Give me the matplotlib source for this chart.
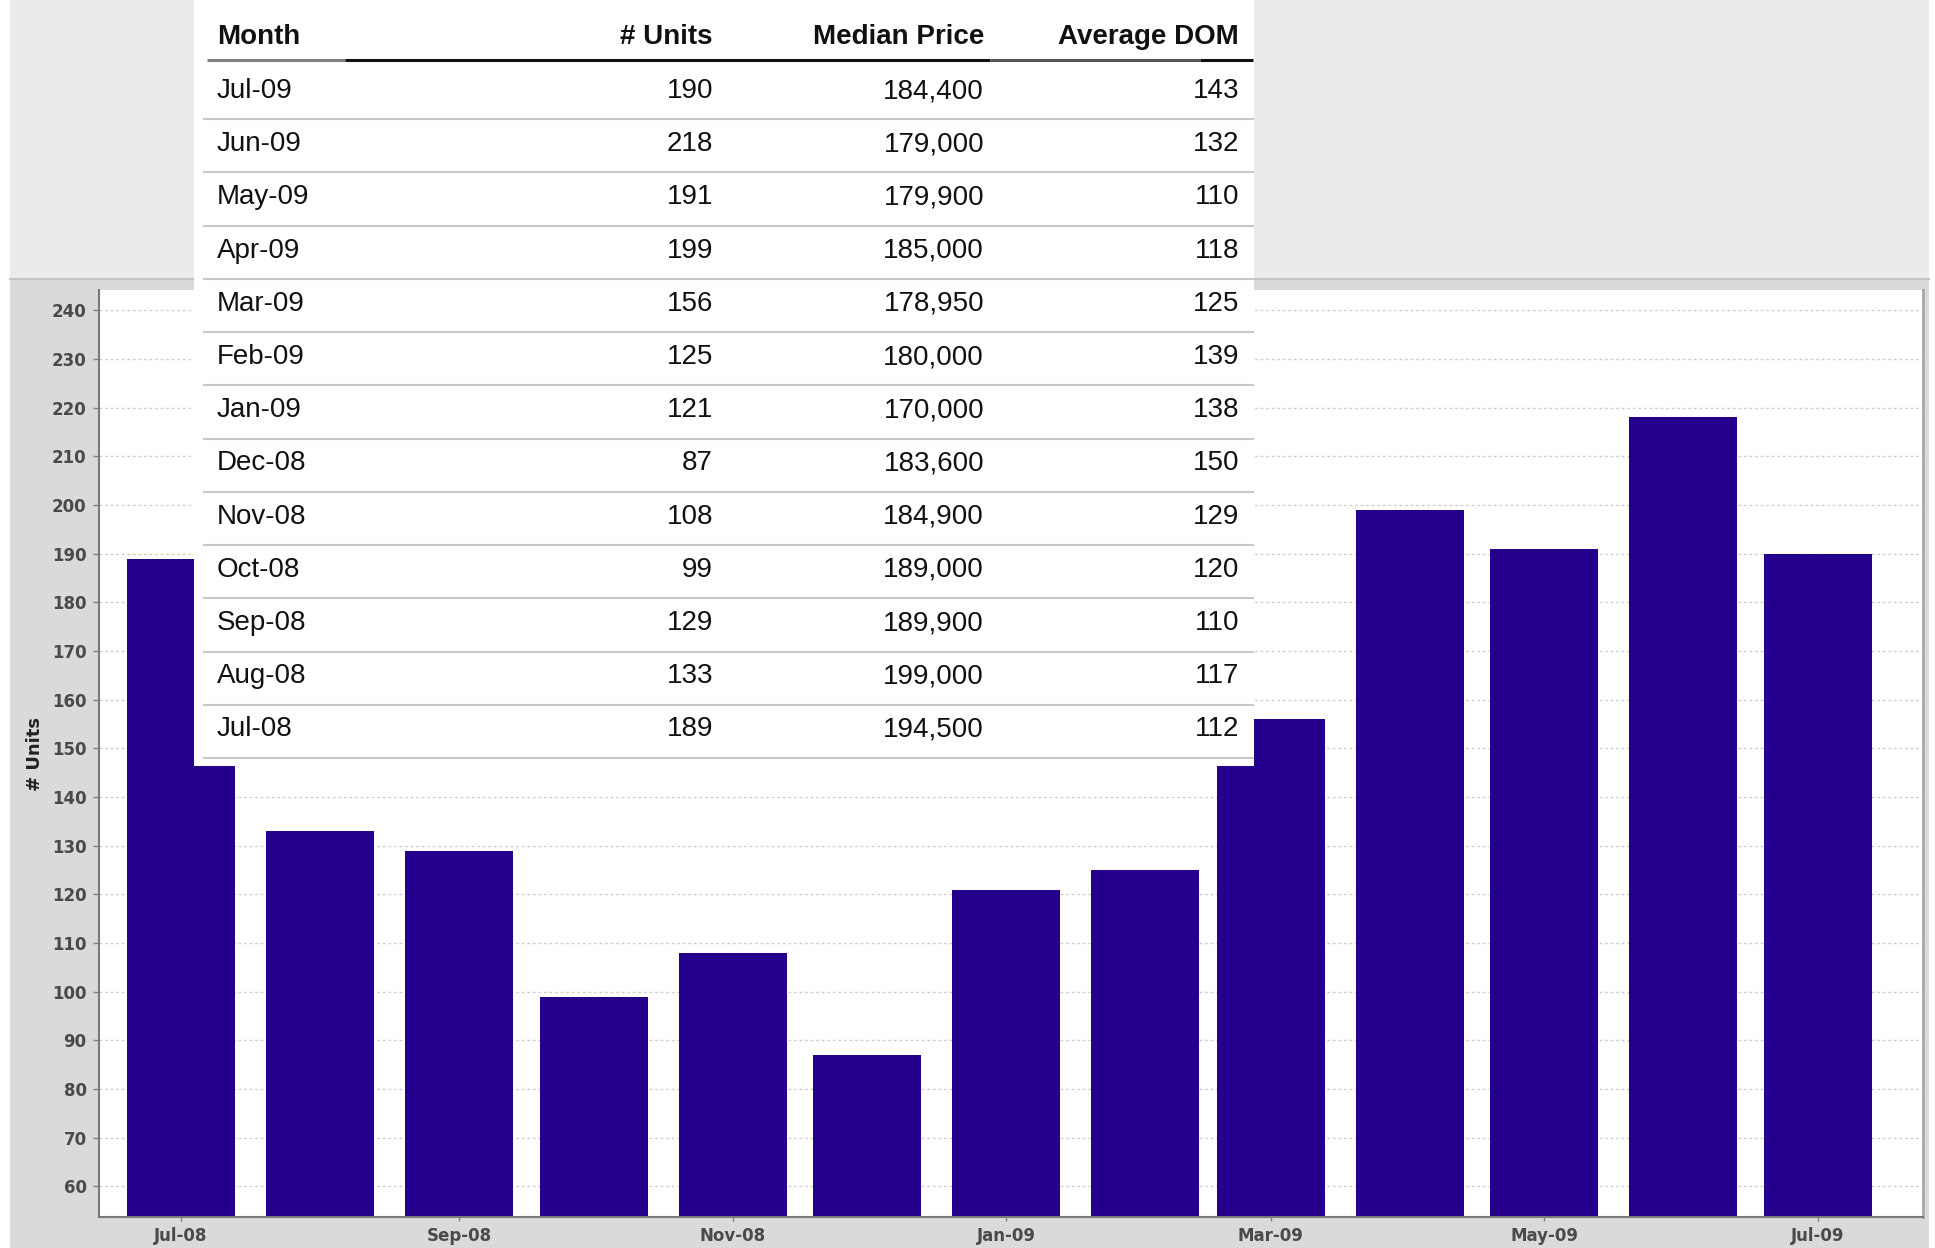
"""Monthly sales units bar chart with the summary table laid over its top-left."""
import matplotlib
matplotlib.use("Agg")
import matplotlib.pyplot as plt
import matplotlib.dates as mdates
import pandas as pd
from matplotlib import font_manager
from matplotlib.patches import Rectangle

# ----- data ---------------------------------------------------------------
months = ["Jul-08", "Aug-08", "Sep-08", "Oct-08", "Nov-08", "Dec-08", "Jan-09",
          "Feb-09", "Mar-09", "Apr-09", "May-09", "Jun-09", "Jul-09"]
units = [189, 133, 129, 99, 108, 87, 121, 125, 156, 199, 191, 218, 190]
median_price = [194500, 199000, 189900, 189000, 184900, 183600, 170000,
                180000, 178950, 185000, 179900, 179000, 184400]
avg_dom = [112, 117, 110, 120, 129, 150, 138, 139, 125, 118, 110, 132, 143]
tick_months = ["Jul-08", "Sep-08", "Nov-08", "Jan-09", "Mar-09", "May-09", "Jul-09"]
y_ticks = list(range(60, 250, 10))
header = ["Month", "# Units", "Median Price", "Average DOM"]

W, H = 1935, 1248
BAR = "#25008c"

names = {f.name for f in font_manager.fontManager.ttflist}
if "Liberation Sans Narrow" in names:
    TFONT, TSIZE = "Liberation Sans Narrow", 24
else:
    TFONT, TSIZE = "Liberation Sans", 20

fig = plt.figure(figsize=(W / 100, H / 100), dpi=100)
fig.patch.set_facecolor("white")

# light strip on top, grey panel behind the chart
fig.add_artist(Rectangle((10 / W, 1 - 279 / H), 1919 / W, 279 / H,
                         transform=fig.transFigure, facecolor="#ebebeb",
                         edgecolor="none", zorder=-5))
fig.add_artist(Rectangle((10 / W, 0), 1919 / W, (H - 279) / H,
                         transform=fig.transFigure, facecolor="#dadada",
                         edgecolor="none", zorder=-4))
fig.add_artist(plt.Line2D([10 / W, 1929 / W], [1 - 279 / H] * 2,
                          transform=fig.transFigure, color="#c4c4c4", lw=1.5,
                          zorder=-3))

# ----- bar chart (time axis: one bar per month start) ---------------------
dates = pd.to_datetime(months, format="%b-%y")
xd = mdates.date2num(dates.to_pydatetime())
ax = fig.add_axes([99 / W, 1 - 1217 / H, (1923 - 99) / W, (1217 - 290) / H])
ax.set_facecolor("white")
ax.bar(xd, units, width=24.1, color=BAR, zorder=2)
ax.set_xlim(xd[0] - 18.3, xd[-1] + 23.5)
ax.set_ylim(53.7, 244.2)
ax.set_yticks(y_ticks)
tick_x = mdates.date2num(pd.to_datetime(tick_months, format="%b-%y").to_pydatetime())
ax.set_xticks(tick_x)
ax.set_xticklabels(tick_months)
ax.yaxis.grid(True, color="#cfcfcf", linestyle=(0, (2, 2)), linewidth=1, zorder=0)
ax.set_axisbelow(True)
for side in ("left", "bottom"):
    ax.spines[side].set_color("#7a7a7a")
    ax.spines[side].set_linewidth(1.5)
ax.spines["right"].set_color("#a8a8a8")
ax.spines["right"].set_linewidth(2)
ax.spines["top"].set_visible(False)
ax.tick_params(axis="y", length=4, width=1, color="#808080", pad=5,
               labelsize=12, labelcolor="#4a4a4a")
ax.tick_params(axis="x", length=3, width=1, color="#808080", pad=4,
               labelsize=12, labelcolor="#4a4a4a")
for lab in ax.get_xticklabels() + ax.get_yticklabels():
    lab.set_fontweight("bold")
fig.text(35 / W, 1 - 754 / H, "# Units", rotation=90, ha="center", va="center",
         fontsize=13, fontweight="bold", color="#222222")

# ----- overlaid table (coordinates in image pixels) ------------------------
tax = fig.add_axes([194 / W, 1 - 766 / H, (1254 - 194) / W, 766 / H], zorder=5)
tax.set_xlim(194, 1254)
tax.set_ylim(766, 0)
tax.set_facecolor("white")
tax.set_xticks([])
tax.set_yticks([])
for s in tax.spines.values():
    s.set_visible(False)

col_x = [217, 713, 984, 1239]
col_ha = ["left", "right", "right", "right"]
for label, cx, ha in zip(header, col_x, col_ha):
    tax.text(cx, 44, label, ha=ha, va="baseline", family=TFONT, fontsize=TSIZE,
             fontweight="bold", color="#111111")

# header underline
tax.plot([207, 345], [60, 60], color="#808080", lw=2.2, solid_capstyle="butt")
tax.plot([345, 990], [60, 60], color="#111111", lw=2.2, solid_capstyle="butt")
tax.plot([990, 1200], [60, 60], color="#555555", lw=2.2, solid_capstyle="butt")
tax.plot([1200, 1253], [60, 60], color="#111111", lw=2.2, solid_capstyle="butt")

rows = list(zip(months, units, median_price, avg_dom))[::-1]
for k, (m, u, p, d) in enumerate(rows):
    base = 98 + k * 53.2
    cells = [m, f"{u}", f"{p:,}", f"{d}"]
    for txt, cx, ha in zip(cells, col_x, col_ha):
        tax.text(cx, base, txt, ha=ha, va="baseline", family=TFONT,
                 fontsize=TSIZE, color="#111111")
    ly = 119 + k * 53.25
    tax.plot([204, 1253], [ly, ly], color="#c8c8c8", lw=1.5)

fig.savefig("out.png", dpi=100)
plt.close(fig)
